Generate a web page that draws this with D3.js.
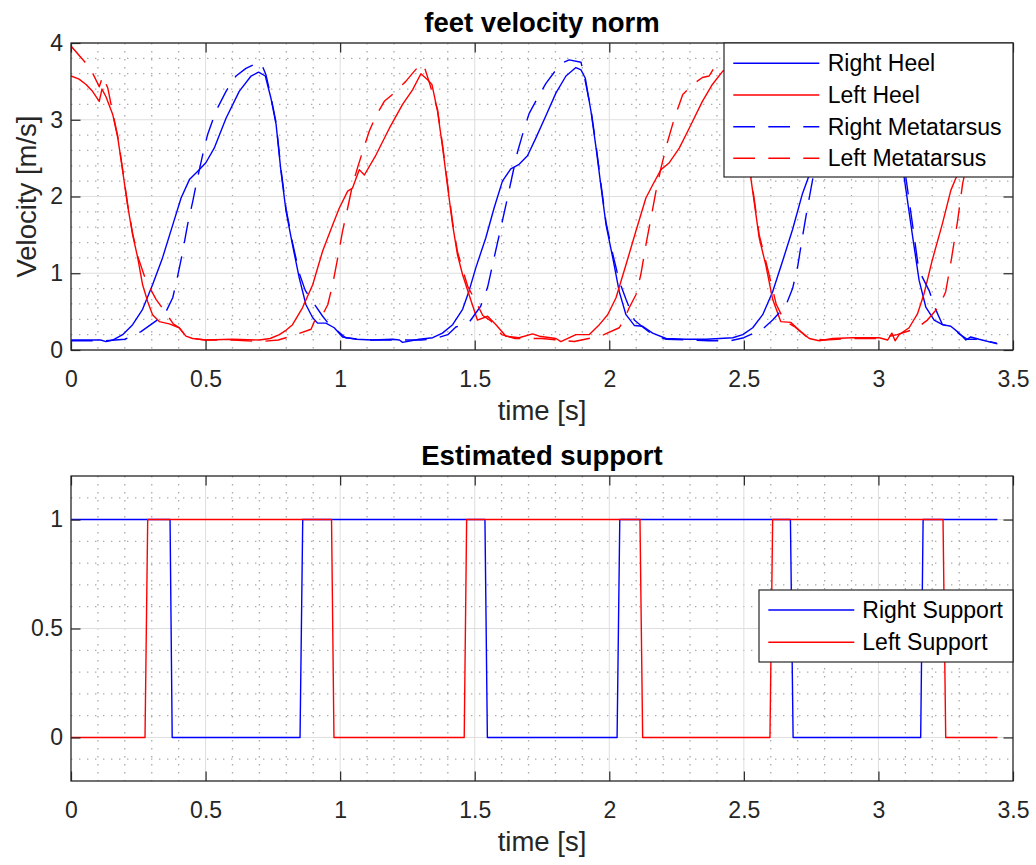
<!DOCTYPE html>
<html>
<head>
<meta charset="utf-8">
<script src="https://cdn.jsdelivr.net/npm/d3@7"></script>
<style>
body { margin: 0; background: #fff; }
text { font-family: "Liberation Sans", Arial, Helvetica, sans-serif; }
.grid-major line { stroke: #dedede; stroke-width: 1; }
.grid-minor line { stroke: #a9a9a9; stroke-width: 1.3; stroke-dasharray: 1.4,6.6; }
.tick line { stroke: #262626; stroke-width: 1.2; }
.tick text { fill: #262626; font-size: 23px; }
</style>
</head>
<body>
<svg id="fig" width="1036" height="865"></svg>
<script>
// ---- data: [time (s), value] ----
var timeTicks = [0, 0.5, 1, 1.5, 2, 2.5, 3, 3.5];
var velocityTicks = [0, 1, 2, 3, 4];
var supportTicks = [0, 0.5, 1];

var rightHeel = [[0,0.13],[0.11,0.13],[0.13,0.11],[0.155,0.13],[0.192,0.2],[0.229,0.33],[0.266,0.53],[0.303,0.85],[0.34,1.2],[0.378,1.63],[0.409,1.98],[0.44,2.22],[0.471,2.33],[0.501,2.44],[0.532,2.63],[0.576,3.02],[0.625,3.37],[0.669,3.57],[0.697,3.62],[0.722,3.57],[0.743,3.28],[0.762,2.94],[0.78,2.33],[0.799,1.81],[0.823,1.37],[0.848,0.94],[0.873,0.59],[0.898,0.42],[0.916,0.35],[0.947,0.35],[0.978,0.29],[1.009,0.17],[1.059,0.14],[1.121,0.13],[1.195,0.14],[1.22,0.13],[1.232,0.1],[1.294,0.14],[1.344,0.16],[1.38,0.22],[1.418,0.33],[1.455,0.53],[1.479,0.77],[1.504,1.07],[1.541,1.46],[1.572,1.85],[1.603,2.2],[1.634,2.36],[1.665,2.42],[1.696,2.53],[1.727,2.76],[1.764,3.05],[1.802,3.35],[1.839,3.57],[1.876,3.68],[1.895,3.65],[1.911,3.54],[1.932,3.11],[1.951,2.63],[1.97,2.11],[1.988,1.63],[2.013,1.2],[2.037,0.76],[2.062,0.46],[2.093,0.32],[2.124,0.31],[2.161,0.22],[2.211,0.15],[2.285,0.14],[2.36,0.14],[2.459,0.16],[2.496,0.2],[2.533,0.29],[2.57,0.46],[2.607,0.76],[2.644,1.16],[2.681,1.57],[2.718,2.04],[2.745,2.3],[2.78,2.42],[2.82,2.6],[2.87,3.0],[2.92,3.35],[2.97,3.58],[3.0,3.62],[3.03,3.55],[3.06,3.1],[3.096,2.24],[3.127,1.48],[3.151,0.91],[3.176,0.56],[3.207,0.39],[3.238,0.33],[3.269,0.31],[3.3,0.22],[3.325,0.13],[3.343,0.17],[3.374,0.14],[3.442,0.08]];

var leftHeel = [[0,3.57],[0.03,3.53],[0.056,3.46],[0.08,3.37],[0.105,3.24],[0.115,3.4],[0.13,3.3],[0.155,3.07],[0.174,2.76],[0.192,2.33],[0.21,1.89],[0.229,1.5],[0.248,1.2],[0.266,0.85],[0.285,0.63],[0.303,0.46],[0.328,0.37],[0.365,0.34],[0.402,0.29],[0.427,0.18],[0.452,0.15],[0.501,0.13],[0.6,0.14],[0.7,0.13],[0.74,0.15],[0.774,0.2],[0.8,0.26],[0.823,0.33],[0.86,0.55],[0.898,0.85],[0.935,1.29],[0.972,1.63],[0.997,1.85],[1.028,2.07],[1.046,2.11],[1.071,2.35],[1.09,2.28],[1.133,2.54],[1.183,2.89],[1.232,3.2],[1.269,3.39],[1.3,3.6],[1.325,3.52],[1.341,3.46],[1.362,3.11],[1.381,2.63],[1.4,2.11],[1.418,1.63],[1.436,1.24],[1.455,0.98],[1.479,0.72],[1.51,0.39],[1.548,0.44],[1.579,0.33],[1.616,0.18],[1.665,0.16],[1.715,0.21],[1.74,0.18],[1.802,0.15],[1.82,0.11],[1.876,0.2],[1.925,0.2],[1.963,0.33],[1.994,0.46],[2.025,0.68],[2.062,1.11],[2.099,1.55],[2.136,1.98],[2.161,2.15],[2.192,2.35],[2.223,2.44],[2.26,2.63],[2.297,2.89],[2.346,3.24],[2.383,3.46],[2.421,3.63],[2.45,3.7],[2.475,3.62],[2.5,3.0],[2.526,2.24],[2.557,1.46],[2.582,1.1],[2.607,0.66],[2.637,0.37],[2.674,0.36],[2.705,0.26],[2.743,0.15],[2.78,0.12],[2.83,0.15],[2.903,0.16],[3.003,0.16],[3.034,0.13],[3.05,0.22],[3.062,0.12],[3.077,0.2],[3.114,0.29],[3.145,0.47],[3.17,0.74],[3.2,1.17],[3.238,1.65],[3.269,2.08],[3.288,2.24],[3.32,2.45],[3.37,2.8],[3.44,3.2]];

var rightMeta = [[0,0.12],[0.1,0.12],[0.13,0.12],[0.2,0.14],[0.26,0.24],[0.32,0.39],[0.353,0.5],[0.378,0.68],[0.396,0.96],[0.415,1.28],[0.433,1.63],[0.452,1.93],[0.47,2.24],[0.489,2.54],[0.507,2.8],[0.538,3.11],[0.576,3.37],[0.613,3.57],[0.65,3.67],[0.68,3.72],[0.706,3.74],[0.724,3.59],[0.743,3.3],[0.762,2.96],[0.78,2.36],[0.799,1.84],[0.823,1.4],[0.848,1.0],[0.87,0.78],[0.892,0.66],[0.935,0.44],[0.96,0.33],[0.99,0.25],[1.02,0.16],[1.1,0.13],[1.2,0.13],[1.3,0.13],[1.344,0.14],[1.4,0.2],[1.43,0.3],[1.479,0.36],[1.522,0.57],[1.548,0.82],[1.572,1.2],[1.597,1.59],[1.616,1.89],[1.64,2.28],[1.659,2.58],[1.677,2.8],[1.702,3.08],[1.733,3.28],[1.764,3.47],[1.802,3.65],[1.826,3.74],[1.851,3.78],[1.895,3.75],[1.911,3.5],[1.932,3.13],[1.951,2.66],[1.97,2.14],[1.988,1.66],[2.013,1.25],[2.037,0.9],[2.062,0.66],[2.093,0.39],[2.124,0.3],[2.161,0.2],[2.211,0.14],[2.3,0.13],[2.37,0.12],[2.45,0.12],[2.5,0.16],[2.569,0.27],[2.607,0.39],[2.656,0.58],[2.681,0.8],[2.7,1.09],[2.718,1.48],[2.737,1.87],[2.755,2.21],[2.78,2.7],[2.82,3.2],[2.87,3.5],[2.93,3.7],[2.99,3.75],[3.03,3.6],[3.06,3.15],[3.1,2.3],[3.13,1.55],[3.15,1.04],[3.189,0.77],[3.21,0.55],[3.238,0.33],[3.27,0.3],[3.3,0.21],[3.33,0.14],[3.374,0.14],[3.44,0.09]];

var leftMeta = [[0,3.96],[0.05,3.76],[0.08,3.61],[0.105,3.43],[0.118,3.57],[0.137,3.41],[0.155,3.09],[0.174,2.78],[0.192,2.35],[0.21,1.91],[0.229,1.52],[0.248,1.22],[0.279,0.9],[0.316,0.66],[0.353,0.48],[0.38,0.34],[0.402,0.29],[0.427,0.18],[0.452,0.15],[0.5,0.13],[0.6,0.13],[0.706,0.11],[0.77,0.13],[0.818,0.18],[0.892,0.27],[0.91,0.42],[0.935,0.46],[0.954,0.59],[0.972,0.85],[0.991,1.2],[1.009,1.55],[1.028,1.85],[1.046,2.15],[1.065,2.38],[1.084,2.59],[1.108,2.85],[1.133,3.05],[1.164,3.24],[1.201,3.35],[1.232,3.46],[1.244,3.5],[1.275,3.63],[1.3,3.73],[1.312,3.7],[1.33,3.5],[1.362,3.13],[1.381,2.66],[1.4,2.14],[1.418,1.66],[1.436,1.28],[1.455,1.05],[1.474,0.83],[1.51,0.59],[1.53,0.45],[1.56,0.38],[1.6,0.2],[1.65,0.15],[1.75,0.15],[1.87,0.11],[1.937,0.16],[1.98,0.2],[2.037,0.29],[2.055,0.4],[2.074,0.55],[2.099,0.72],[2.117,0.98],[2.136,1.37],[2.155,1.72],[2.173,2.06],[2.192,2.37],[2.217,2.72],[2.242,3.02],[2.273,3.33],[2.31,3.46],[2.346,3.55],[2.371,3.57],[2.39,3.68],[2.421,3.72],[2.45,3.76],[2.475,3.68],[2.5,3.05],[2.526,2.28],[2.557,1.5],[2.582,1.15],[2.62,0.6],[2.65,0.38],[2.69,0.3],[2.74,0.15],[2.8,0.13],[2.9,0.15],[3.0,0.15],[3.07,0.2],[3.14,0.28],[3.182,0.39],[3.226,0.57],[3.25,0.76],[3.269,1.14],[3.294,1.68],[3.313,2.17],[3.34,2.6],[3.44,3.4]];

var rightSupport = [[0,1],[0.368,1],[0.376,0],[0.851,0],[0.861,1],[1.538,1],[1.547,0],[2.029,0],[2.039,1],[2.673,1],[2.683,0],[3.157,0],[3.166,1],[3.442,1]];
var leftSupport = [[0,0],[0.275,0],[0.285,1],[0.968,1],[0.977,0],[1.461,0],[1.47,1],[2.114,1],[2.124,0],[2.597,0],[2.607,1],[3.24,1],[3.25,0],[3.442,0]];

var velocityNames = ['Right Heel', 'Left Heel', 'Right Metatarsus', 'Left Metatarsus'];
var supportNames = ['Right Support', 'Left Support'];

var svg = d3.select('#fig');
var x = d3.scaleLinear().domain([0, 3.5]).range([71, 1013]);
var tickLen = 9.5;

function drawPanel(p) {
    var y = p.y;
    var g = svg.append('g');
    var top = y.range()[1], bottom = y.range()[0];
    var left = x.range()[0], right = x.range()[1];

    g.append('rect').attr('x', left).attr('y', top)
        .attr('width', right - left).attr('height', bottom - top).attr('fill', '#fff');

    // minor grid (dotted)
    var xMinor = d3.range(1, 35).map(function(i) { return i / 10; })
        .filter(function(v) { return Math.abs(v * 2 - Math.round(v * 2)) > 1e-6; });
    var minor = g.append('g').attr('class', 'grid-minor');
    minor.selectAll('line.vx').data(xMinor).enter().append('line')
        .attr('x1', function(d) { return x(d); }).attr('x2', function(d) { return x(d); })
        .attr('y1', top).attr('y2', bottom);
    minor.selectAll('line.hy').data(p.yMinor).enter().append('line')
        .attr('y1', function(d) { return y(d); }).attr('y2', function(d) { return y(d); })
        .attr('x1', left).attr('x2', right);

    // major grid
    var major = g.append('g').attr('class', 'grid-major');
    major.selectAll('line.vx').data(timeTicks.slice(1, -1)).enter().append('line')
        .attr('x1', function(d) { return x(d); }).attr('x2', function(d) { return x(d); })
        .attr('y1', top).attr('y2', bottom);
    major.selectAll('line.hy').data(p.yTicks).enter().append('line')
        .attr('y1', function(d) { return y(d); }).attr('y2', function(d) { return y(d); })
        .attr('x1', left).attr('x2', right);

    // data lines
    var clipId = 'clip' + p.id;
    svg.append('clipPath').attr('id', clipId).append('rect')
        .attr('x', left).attr('y', top).attr('width', right - left).attr('height', bottom - top);
    var line = d3.line().x(function(d) { return x(d[0]); }).y(function(d) { return y(d[1]); });
    var lines = g.append('g').attr('clip-path', 'url(#' + clipId + ')');
    p.series.forEach(function(s) {
        lines.append('path').datum(s.data)
            .attr('d', line).attr('fill', 'none')
            .attr('stroke', s.color).attr('stroke-width', 1.4)
            .attr('stroke-dasharray', s.dash ? '21.7,13.3' : null)
            .attr('stroke-linejoin', 'round');
    });

    // axes, ticks pointing inward
    var fmt = function(d) { return String(d); };
    g.append('g').attr('transform', 'translate(0,' + bottom + ')')
        .call(d3.axisBottom(x).tickValues(timeTicks).tickFormat(fmt).tickSize(-tickLen).tickPadding(21))
        .call(function(a) { a.select('.domain').remove(); });
    g.append('g').attr('transform', 'translate(0,' + top + ')')
        .call(d3.axisTop(x).tickValues(timeTicks).tickFormat('').tickSize(-tickLen))
        .call(function(a) { a.select('.domain').remove(); });
    g.append('g').attr('transform', 'translate(' + left + ',0)')
        .call(d3.axisLeft(y).tickValues(p.yTicks).tickFormat(fmt).tickSize(-tickLen).tickPadding(8))
        .call(function(a) { a.select('.domain').remove(); });
    g.append('g').attr('transform', 'translate(' + right + ',0)')
        .call(d3.axisRight(y).tickValues(p.yTicks).tickFormat('').tickSize(-tickLen))
        .call(function(a) { a.select('.domain').remove(); });
    g.selectAll('.tick text').attr('font-family', null).attr('font-size', null);

    g.append('rect').attr('x', left).attr('y', top)
        .attr('width', right - left).attr('height', bottom - top)
        .attr('fill', 'none').attr('stroke', '#262626').attr('stroke-width', 1.3);

    // title and labels
    g.append('text').attr('x', (left + right) / 2).attr('y', top - 11)
        .attr('text-anchor', 'middle').attr('font-size', 27.5).attr('font-weight', 'bold')
        .attr('fill', '#000').text(p.title);
    g.append('text').attr('x', (left + right) / 2).attr('y', bottom + 70)
        .attr('text-anchor', 'middle').attr('font-size', 27.5).attr('fill', '#262626').text('time [s]');
    if (p.ylabel) {
        g.append('text').attr('transform', 'translate(36,' + (top + bottom) / 2 + ') rotate(-90)')
            .attr('text-anchor', 'middle').attr('font-size', 27.5).attr('fill', '#262626').text(p.ylabel);
    }

    // legend
    var L = p.legend;
    var lg = g.append('g');
    lg.append('rect').attr('x', L.x).attr('y', L.y).attr('width', L.w).attr('height', L.h)
        .attr('fill', '#fff').attr('stroke', '#262626').attr('stroke-width', 1.2);
    p.series.forEach(function(s, i) {
        var ry = L.rows[i];
        lg.append('line').attr('x1', L.lineX[0]).attr('x2', L.lineX[1])
            .attr('y1', ry).attr('y2', ry).attr('stroke', s.color).attr('stroke-width', 1.4)
            .attr('stroke-dasharray', s.dash ? '21.7,13.3' : null);
        lg.append('text').attr('x', L.textX).attr('y', ry + 8)
            .attr('font-size', 23).attr('fill', '#000').text(s.name);
    });
}

drawPanel({
    id: 'top',
    y: d3.scaleLinear().domain([0, 4]).range([350, 43]),
    yTicks: velocityTicks,
    yMinor: [0.2, 0.4, 0.6, 0.8, 1.2, 1.4, 1.6, 1.8, 2.2, 2.4, 2.6, 2.8, 3.2, 3.4, 3.6, 3.8],
    title: 'feet velocity norm',
    ylabel: 'Velocity [m/s]',
    series: [
        { name: velocityNames[0], data: rightHeel, color: '#0000ff', dash: false },
        { name: velocityNames[1], data: leftHeel, color: '#ff0000', dash: false },
        { name: velocityNames[2], data: rightMeta, color: '#0000ff', dash: true },
        { name: velocityNames[3], data: leftMeta, color: '#ff0000', dash: true }
    ],
    legend: { x: 724, y: 43, w: 289, h: 134, rows: [63.3, 95, 126.7, 158.3], lineX: [733.3, 819.3], textX: 827.7 }
});

drawPanel({
    id: 'bottom',
    y: d3.scaleLinear().domain([-0.2, 1.2]).range([781, 476]),
    yTicks: supportTicks,
    yMinor: [-0.1, 0.1, 0.2, 0.3, 0.4, 0.6, 0.7, 0.8, 0.9, 1.1],
    title: 'Estimated support',
    ylabel: null,
    series: [
        { name: supportNames[0], data: rightSupport, color: '#0000ff', dash: false },
        { name: supportNames[1], data: leftSupport, color: '#ff0000', dash: false }
    ],
    legend: { x: 759, y: 590, w: 254, h: 72, rows: [610, 642.3], lineX: [768.3, 854.3], textX: 862.3 }
});
</script>
</body>
</html>
